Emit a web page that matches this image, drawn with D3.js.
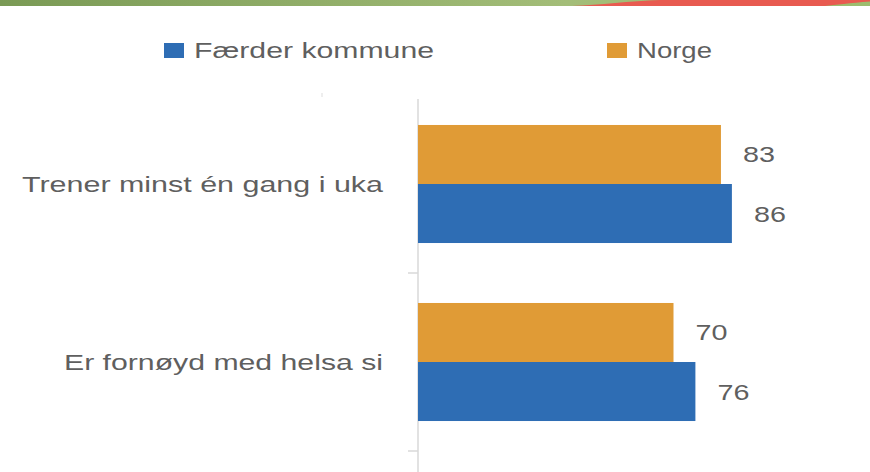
<!DOCTYPE html>
<html>
<head>
<meta charset="utf-8">
<script src="https://cdn.jsdelivr.net/npm/d3@7"></script>
<style>
  html, body { margin: 0; padding: 0; background: #fff; }
  svg { display: block; }
  text { font-family: "Liberation Sans", Arial, sans-serif; fill: #5f5f5f; }
</style>
</head>
<body>
<svg id="chart" width="870" height="472"></svg>
<script>
const categories = ["Trener minst én gang i uka", "Er fornøyd med helsa si"];
const seriesNames = ["Norge", "Færder kommune"];
const norgeValues = [83, 70];
const faerderValues = [86, 76];
const legendNames = ["Færder kommune", "Norge"];
const colors = { "Færder kommune": "#2e6db4", "Norge": "#e09b36" };

const svg = d3.select("#chart");

// top decorative banner
const defs = svg.append("defs");
const grad = defs.append("linearGradient").attr("id", "band").attr("x1", "0").attr("x2", "1");
grad.append("stop").attr("offset", "0").attr("stop-color", "#7a9a55");
grad.append("stop").attr("offset", "0.65").attr("stop-color", "#a3bd78");
grad.append("stop").attr("offset", "1").attr("stop-color", "#9cbd6e");
svg.append("rect").attr("x", 0).attr("y", 0).attr("width", 870).attr("height", 6).attr("fill", "url(#band)");
svg.append("path").attr("d", "M572,6 C600,5 630,1 660,0 L870,0 L870,1.5 C850,3 835,5 825,6 Z").attr("fill", "#e85a50");

const x = d3.scaleLinear().domain([0, 100]).range([418, 783]);
const y = d3.scaleBand().domain(categories).range([95, 451]).paddingInner(0).paddingOuter(0);
const ySub = d3.scaleBand().domain(seriesNames).range([0, y.bandwidth()]).paddingInner(0).paddingOuter(0.508);

// axis
const axis = d3.axisLeft(y).tickSize(10).tickSizeOuter(0).tickFormat("");
const gAxis = svg.append("g").attr("transform", "translate(418,0)").call(axis);
gAxis.select(".domain").remove();
gAxis.selectAll(".tick").remove();
const tickYs = [y.range()[0] + y.step(), y.range()[0] + 2 * y.step()];
gAxis.selectAll("line.t").data(tickYs).enter().append("line")
  .attr("x1", -10).attr("x2", 0).attr("y1", d => d).attr("y2", d => d)
  .attr("stroke", "#d9d9d9").attr("stroke-width", 1.5);
gAxis.append("line").attr("x1", 0).attr("x2", 0).attr("y1", 99).attr("y2", 472)
  .attr("stroke", "#d9d9d9").attr("stroke-width", 1.5);
svg.append("line").attr("x1", 322).attr("x2", 322).attr("y1", 93).attr("y2", 97)
  .attr("stroke", "#dddddd").attr("stroke-width", 1);

// category labels
const catWidths = [361, 319];
svg.append("g").selectAll("text").data(categories).enter().append("text")
  .attr("x", 383).attr("y", d => y(d) + y.bandwidth() / 2 + 8)
  .attr("text-anchor", "end").attr("font-size", 22)
  .attr("textLength", (d, i) => catWidths[i]).attr("lengthAdjust", "spacingAndGlyphs")
  .text(d => d);

// bars
const rows = [];
categories.forEach((c, i) => {
  rows.push({ cat: c, series: "Norge", value: norgeValues[i] });
  rows.push({ cat: c, series: "Færder kommune", value: faerderValues[i] });
});
svg.append("g").selectAll("rect").data(rows).enter().append("rect")
  .attr("x", x(0)).attr("y", d => y(d.cat) + ySub(d.series))
  .attr("width", d => x(d.value) - x(0)).attr("height", ySub.bandwidth())
  .attr("fill", d => colors[d.series]);

svg.append("g").selectAll("text").data(rows).enter().append("text")
  .attr("x", d => x(d.value) + 22)
  .attr("y", d => y(d.cat) + ySub(d.series) + ySub.bandwidth() / 2 + 8)
  .attr("font-size", 22).attr("textLength", 32).attr("lengthAdjust", "spacingAndGlyphs")
  .text(d => d.value);

// legend
const legendX = [164, 607];
const legendW = [240, 75];
const lg = svg.append("g").selectAll("g").data(legendNames).enter().append("g")
  .attr("transform", (d, i) => `translate(${legendX[i]},0)`);
lg.append("rect").attr("x", 0).attr("y", 43).attr("width", 20).attr("height", 15).attr("fill", d => colors[d]);
lg.append("text").attr("x", 30).attr("y", 58).attr("font-size", 22)
  .attr("textLength", (d, i) => legendW[i]).attr("lengthAdjust", "spacingAndGlyphs")
  .text(d => d);
</script>
</body>
</html>
